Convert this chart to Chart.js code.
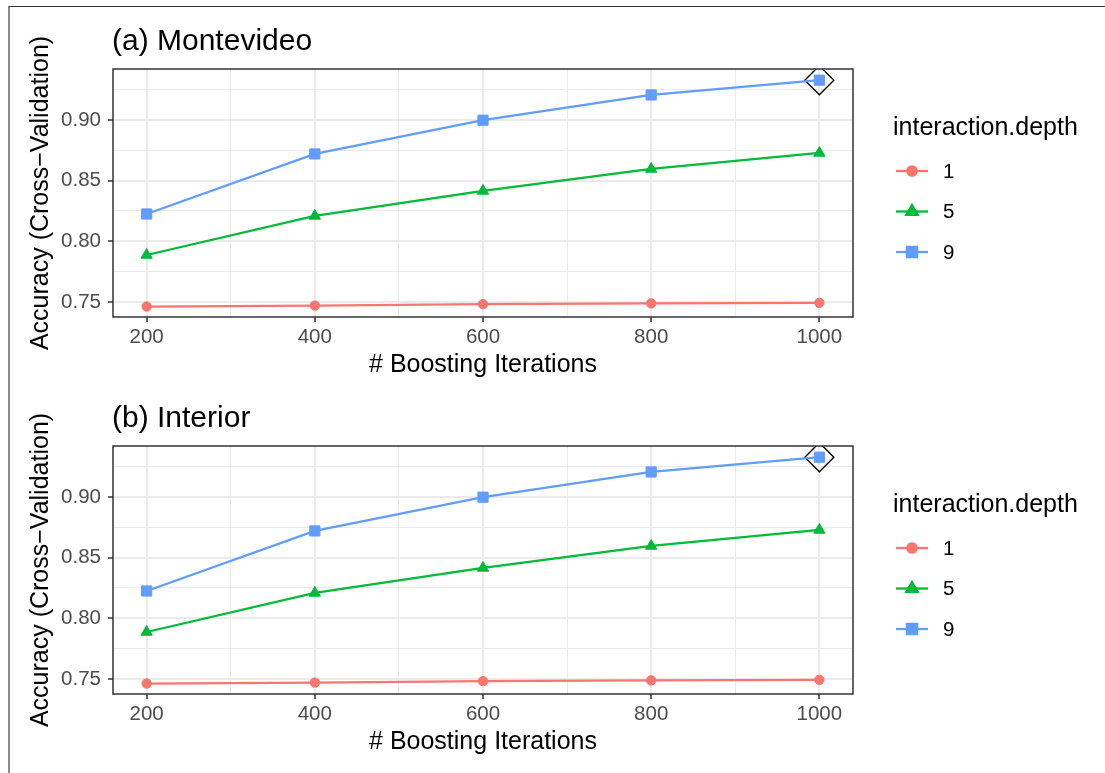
<!DOCTYPE html>
<html>
<head>
<meta charset="utf-8">
<script src="https://cdn.jsdelivr.net/npm/chart.js@4"></script>
<style>
	html, body { margin: 0; padding: 0; background: #fff; }
	#page { position: relative; width: 1105px; height: 773px; overflow: hidden; }
	#frame { position: absolute; left: 8px; top: 6px; right: 0; bottom: 0; border-top: 1px solid #333; border-left: 2px solid #8a8a8a; }
	canvas { position: absolute; left: 0; }
	#panelA { top: 0; }
	#panelB { top: 377px; }
</style>
</head>
<body>
<div id="page">
	<div id="frame"></div>
	<canvas id="panelA" width="1105" height="386"></canvas>
	<canvas id="panelB" width="1105" height="386"></canvas>
</div>
<script>
// Data
const iterations = [200, 400, 600, 800, 1000];
const depthLabels = ['1', '5', '9'];

const montevideoDepth1 = [0.7462, 0.7470, 0.7482, 0.7488, 0.7493];
const montevideoDepth5 = [0.7887, 0.8209, 0.8415, 0.8596, 0.8728];
const montevideoDepth9 = [0.8225, 0.8720, 0.8998, 0.9206, 0.9328];
const montevideoBest = { x: 1000, y: 0.9328 };

const interiorDepth1 = [0.7462, 0.7470, 0.7482, 0.7488, 0.7493];
const interiorDepth5 = [0.7887, 0.8209, 0.8415, 0.8596, 0.8728];
const interiorDepth9 = [0.8225, 0.8720, 0.8998, 0.9206, 0.9328];
const interiorBest = { x: 1000, y: 0.9328 };

const xTicks = [200, 300, 400, 500, 600, 700, 800, 900, 1000];
const yTicks = [0.75, 0.775, 0.80, 0.825, 0.85, 0.875, 0.90, 0.925];

const colors = ['#F8766D', '#00BA38', '#619CFF'];
const styles = ['circle', 'triangle', 'rect'];
const radii = [4.7, 6.5, 7.2];
const FONT = '"Liberation Sans", Arial, Helvetica, sans-serif';

function isMajorX(v) { return v % 200 === 0; }
function isMajorY(v) { return Math.abs(v * 20 - Math.round(v * 20)) < 1e-6; }

// panel title, border and legend
const decorations = {
	id: 'decorations',
	afterDraw(chart, args, opts) {
		const ctx = chart.ctx;
		const a = chart.chartArea;
		ctx.save();
		ctx.strokeStyle = '#333';
		ctx.lineWidth = 1.5;
		ctx.strokeRect(a.left, a.top, a.right - a.left, a.bottom - a.top);

		ctx.fillStyle = '#000';
		ctx.textBaseline = 'alphabetic';
		ctx.textAlign = 'left';
		ctx.font = '30px ' + FONT;
		ctx.fillText(opts.title, 112, 50);

		ctx.font = '25px ' + FONT;
		ctx.fillText('interaction.depth', 893, 135);

		ctx.font = '20.5px ' + FONT;
		ctx.textBaseline = 'middle';
		depthLabels.forEach((lab, i) => {
			const y = 171 + i * 40.5;
			ctx.strokeStyle = colors[i];
			ctx.lineWidth = 2.3;
			ctx.beginPath();
			ctx.moveTo(896, y);
			ctx.lineTo(928, y);
			ctx.stroke();
			ctx.fillStyle = colors[i];
			Chart.helpers.drawPoint(ctx, {
				pointStyle: styles[i], radius: radii[i], rotation: 0, borderWidth: 1
			}, 912, y);
			ctx.fillStyle = '#000';
			ctx.fillText(lab, 943, y + 1);
		});
		ctx.restore();
	}
};

function makePanel(canvasId, title, d1, d5, d9, best) {
	const series = [d1, d5, d9];
	const datasets = series.map((vals, i) => ({
		label: depthLabels[i],
		data: iterations.map((x, j) => ({ x: x, y: vals[j] })),
		borderColor: colors[i],
		backgroundColor: colors[i],
		borderWidth: 2.3,
		pointStyle: styles[i],
		pointRadius: radii[i],
		pointBorderWidth: 1,
		pointBorderColor: colors[i],
		pointBackgroundColor: colors[i],
		tension: 0
	}));
	datasets.push({
		label: 'best',
		data: [best],
		showLine: false,
		pointStyle: 'rectRot',
		pointRadius: 14.5,
		pointBorderWidth: 1.4,
		pointBorderColor: '#000',
		pointBackgroundColor: 'rgba(0,0,0,0)'
	});

	return new Chart(document.getElementById(canvasId), {
		type: 'line',
		data: { datasets: datasets },
		plugins: [decorations],
		options: {
			responsive: false,
			animation: false,
			devicePixelRatio: 1,
			layout: { padding: { left: 26, right: 252, top: 69, bottom: 6 } },
			plugins: {
				legend: { display: false },
				tooltip: { enabled: false },
				decorations: { title: title }
			},
			scales: {
				x: {
					type: 'linear',
					min: 160,
					max: 1040,
					afterBuildTicks: s => { s.ticks = xTicks.map(v => ({ value: v })); },
					afterFit: s => { s.height = 63; },
					border: { display: false },
					grid: {
						color: '#ebebeb',
						lineWidth: c => isMajorX(c.tick.value) ? 2 : 1,
						tickColor: c => isMajorX(c.tick.value) ? '#333' : 'rgba(0,0,0,0)',
						tickWidth: 1.5,
						tickLength: 5
					},
					ticks: {
						autoSkip: false,
						maxRotation: 0,
						padding: 3,
						color: '#4d4d4d',
						font: { family: FONT, size: 20.5 },
						callback: v => isMajorX(v) ? String(v) : ''
					},
					title: {
						display: true,
						text: '# Boosting Iterations',
						color: '#000',
						padding: 0,
						font: { family: FONT, size: 25 }
					}
				},
				y: {
					type: 'linear',
					min: 0.7376,
					max: 0.9420,
					afterBuildTicks: s => { s.ticks = yTicks.map(v => ({ value: v })); },
					afterFit: s => { s.width = 87; },
					border: { display: false },
					grid: {
						color: '#ebebeb',
						lineWidth: c => isMajorY(c.tick.value) ? 2 : 1,
						tickColor: c => isMajorY(c.tick.value) ? '#333' : 'rgba(0,0,0,0)',
						tickWidth: 1.5,
						tickLength: 5
					},
					ticks: {
						autoSkip: false,
						padding: 7,
						color: '#4d4d4d',
						font: { family: FONT, size: 20.5 },
						callback: v => isMajorY(v) ? v.toFixed(2) : ''
					},
					title: {
						display: true,
						text: 'Accuracy (Cross\u2212Validation)',
						color: '#000',
						padding: 0,
						font: { family: FONT, size: 25 }
					}
				}
			}
		}
	});
}

makePanel('panelA', '(a) Montevideo', montevideoDepth1, montevideoDepth5, montevideoDepth9, montevideoBest);
makePanel('panelB', '(b) Interior', interiorDepth1, interiorDepth5, interiorDepth9, interiorBest);
</script>
</body>
</html>
